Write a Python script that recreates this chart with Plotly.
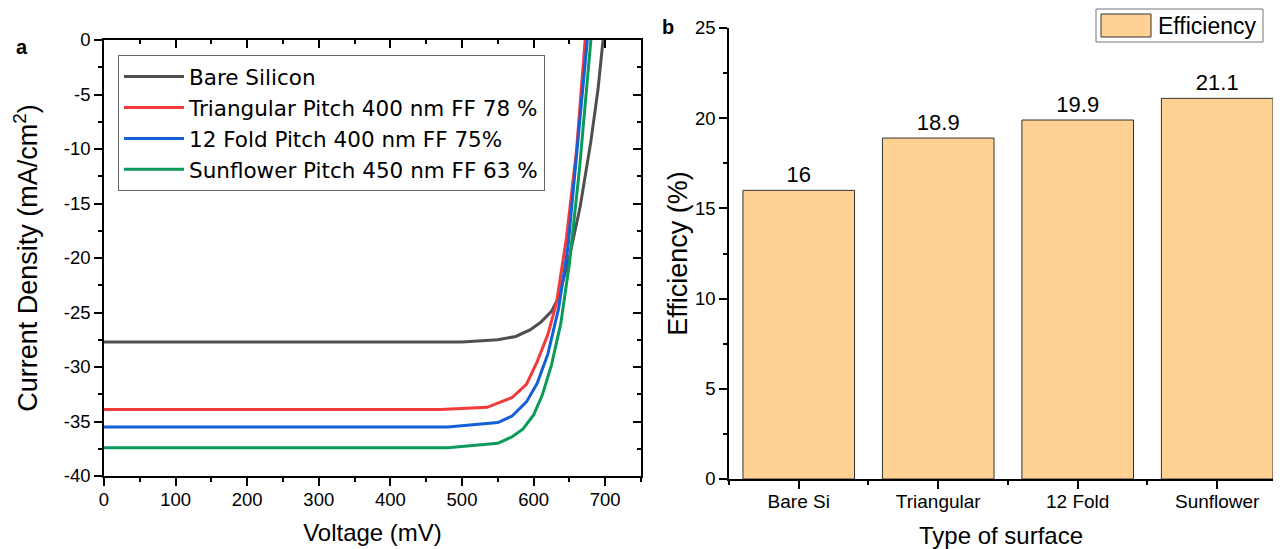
import plotly.graph_objects as go

# ---- J-V curves (voltage in mV, current density in mA/cm^2) ----
v_bare = [0, 100, 200, 300, 400, 500, 550, 575, 595, 610, 625, 635, 650, 665, 680, 690, 697]
j_bare = [-27.7, -27.7, -27.7, -27.7, -27.7, -27.7, -27.5, -27.2, -26.6, -25.9, -24.9, -23.6, -19.9, -15.3, -9.3, -4.5, 0]

v_tri = [0, 100, 200, 300, 400, 470, 535, 570, 590, 605, 620, 632, 646, 660, 672]
j_tri = [-33.9, -33.9, -33.9, -33.9, -33.9, -33.9, -33.7, -32.8, -31.6, -29.5, -27.0, -24.1, -18.1, -10.1, 0]

v_fold = [0, 100, 200, 300, 400, 480, 550, 570, 590, 605, 620, 635, 648, 661, 675]
j_fold = [-35.5, -35.5, -35.5, -35.5, -35.5, -35.5, -35.1, -34.5, -33.2, -31.5, -28.8, -24.6, -19.0, -9.8, 0]

v_sun = [0, 100, 200, 300, 400, 480, 550, 570, 585, 600, 612, 625, 638, 650, 664, 680]
j_sun = [-37.4, -37.4, -37.4, -37.4, -37.4, -37.4, -37.0, -36.4, -35.7, -34.4, -32.6, -29.8, -26.0, -20.5, -11.9, 0]

curve_names = ["Bare Silicon", "Triangular Pitch 400 nm FF 78 %",
               "12 Fold Pitch 400 nm FF 75%", "Sunflower Pitch 450 nm FF 63 %"]
curve_colors = ["#4f4f4f", "#f23a3a", "#1460d6", "#0a9a5a"]

# current-density tick labels (plain hyphen minus)
j_ticks = [0, -5, -10, -15, -20, -25, -30, -35, -40]
j_ticktext = ["0", "-5", "-10", "-15", "-20", "-25", "-30", "-35", "-40"]

# ---- efficiency bars ----
surfaces = ["Bare Si", "Triangular", "12 Fold", "Sunflower"]
efficiency = [16, 18.9, 19.9, 21.1]

FONT = "Liberation Sans, Arial, sans-serif"
WIDE = "DejaVu Sans, Liberation Sans, sans-serif"
W, H = 1282, 549

def px_x(p):
    return p / W

def px_y(p):
    return 1 - p / H

fig = go.Figure()

for v, j, name, col in zip([v_bare, v_tri, v_fold, v_sun], [j_bare, j_tri, j_fold, j_sun],
                           curve_names, curve_colors):
    fig.add_trace(go.Scatter(x=v, y=j, mode="lines", name=name,
                             line=dict(color=col, width=3), xaxis="x", yaxis="y"))

# empty trace to carry the inward mirror ticks of panel a
fig.add_trace(go.Scatter(x=[], y=[], xaxis="x3", yaxis="y3", showlegend=False, hoverinfo="skip"))

fig.add_trace(go.Bar(x=surfaces, y=efficiency, name="Efficiency", xaxis="x2", yaxis="y2",
                     marker=dict(color="#ffd193", line=dict(color="#333333", width=1)),
                     width=0.8, text=[f"{e:g}" for e in efficiency], textposition="outside",
                     textfont=dict(size=22, color="black", family=FONT),
                     cliponaxis=False, showlegend=False))

# empty trace for the between-category ticks of panel b
fig.add_trace(go.Bar(x=surfaces, y=[None] * len(surfaces), xaxis="x4", yaxis="y2",
                     showlegend=False, hoverinfo="skip"))

dom_xa = [px_x(104), px_x(641)]
dom_xb = [px_x(729), px_x(1273)]
dom_ya = [px_y(476), px_y(40)]
dom_yb = [px_y(479), px_y(28)]

tickfont = dict(size=18.5, color="black", family=FONT)
xtitlefont = dict(size=24, color="black", family=FONT)
ytitlefont = dict(size=27, color="black", family=FONT)
axis_common = dict(showgrid=False, zeroline=False, showline=True, linecolor="black",
                   linewidth=1.5, tickcolor="black", tickwidth=1.5, automargin=False)
minor_out = dict(ticks="outside", ticklen=4, tickcolor="black", tickwidth=1.5, showgrid=False)
minor_in = dict(ticks="inside", ticklen=4, tickcolor="black", tickwidth=1.5, showgrid=False)

fig.update_layout(
    width=W, height=H,
    margin=dict(l=0, r=0, t=0, b=0),
    paper_bgcolor="white", plot_bgcolor="white",
    font=dict(family=FONT, color="black"),
    xaxis=dict(domain=dom_xa, range=[0, 750], anchor="y", ticks="outside", ticklen=8,
               dtick=100, tick0=0, tickfont=tickfont, ticklabelstandoff=-2,
               minor=dict(dtick=50, **minor_out),
               title=dict(text="Voltage (mV)", font=xtitlefont, standoff=15), **axis_common),
    yaxis=dict(domain=dom_ya, range=[-40, 0], anchor="x", ticks="outside", ticklen=8,
               tickvals=j_ticks, ticktext=j_ticktext, tickfont=tickfont,
               minor=dict(dtick=2.5, tick0=0, **minor_out),
               title=dict(text="Current Density (mA/cm<sup>2</sup>)", font=ytitlefont, standoff=18),
               **axis_common),
    xaxis3=dict(overlaying="x", side="top", anchor="y", range=[0, 750], ticks="inside",
                ticklen=8, dtick=100, tick0=0, showticklabels=False,
                minor=dict(dtick=50, **minor_in), **axis_common),
    yaxis3=dict(overlaying="y", side="right", anchor="x", range=[-40, 0], ticks="inside",
                ticklen=8, dtick=5, tick0=0, showticklabels=False,
                minor=dict(dtick=2.5, tick0=0, **minor_in), **axis_common),
    xaxis2=dict(domain=dom_xb, anchor="y2", type="category", range=[-0.5, 3.4],
                ticks="outside", ticklen=8, tickfont=dict(size=19, color="black", family=FONT),
                ticklabelstandoff=-4,
                title=dict(text="Type of surface", font=xtitlefont, standoff=17), **axis_common),
    xaxis4=dict(overlaying="x2", anchor="y2", type="category", range=[-0.5, 3.4],
                tickson="boundaries", ticks="outside", ticklen=4, showticklabels=False,
                **axis_common),
    yaxis2=dict(domain=dom_yb, anchor="x2", range=[0, 25], ticks="outside", ticklen=8,
                dtick=5, tick0=0, tickfont=tickfont, minor=dict(dtick=2.5, tick0=0, **minor_out),
                title=dict(text="Efficiency (%)", font=ytitlefont, standoff=0), **axis_common),
    legend=dict(x=px_x(118), y=px_y(55), xanchor="left", yanchor="top",
                bgcolor="white", bordercolor="#666666", borderwidth=1, itemwidth=60,
                font=dict(size=21.5, color="black", family=WIDE), tracegroupgap=0),
    showlegend=True,
)

# panel letters
fig.add_annotation(text="<b>a</b>", x=px_x(22), y=px_y(47), xref="paper", yref="paper",
                   xanchor="center", yanchor="middle", showarrow=False,
                   font=dict(size=20, color="black", family=FONT))
fig.add_annotation(text="<b>b</b>", x=px_x(668), y=px_y(27), xref="paper", yref="paper",
                   xanchor="center", yanchor="middle", showarrow=False,
                   font=dict(size=20, color="black", family=FONT))

# key for the bar series
fig.add_shape(type="rect", xref="paper", yref="paper",
              x0=px_x(1096), x1=px_x(1263), y0=px_y(42), y1=px_y(9),
              line=dict(color="#777777", width=1), fillcolor="white")
fig.add_shape(type="rect", xref="paper", yref="paper",
              x0=px_x(1101), x1=px_x(1151), y0=px_y(37), y1=px_y(14),
              line=dict(color="#333333", width=1), fillcolor="#ffd193")
fig.add_annotation(text="Efficiency", x=px_x(1156), y=px_y(26), xref="paper", yref="paper",
                   xanchor="left", yanchor="middle", showarrow=False,
                   font=dict(size=23, color="black", family=FONT))

fig.write_html("out.html")
